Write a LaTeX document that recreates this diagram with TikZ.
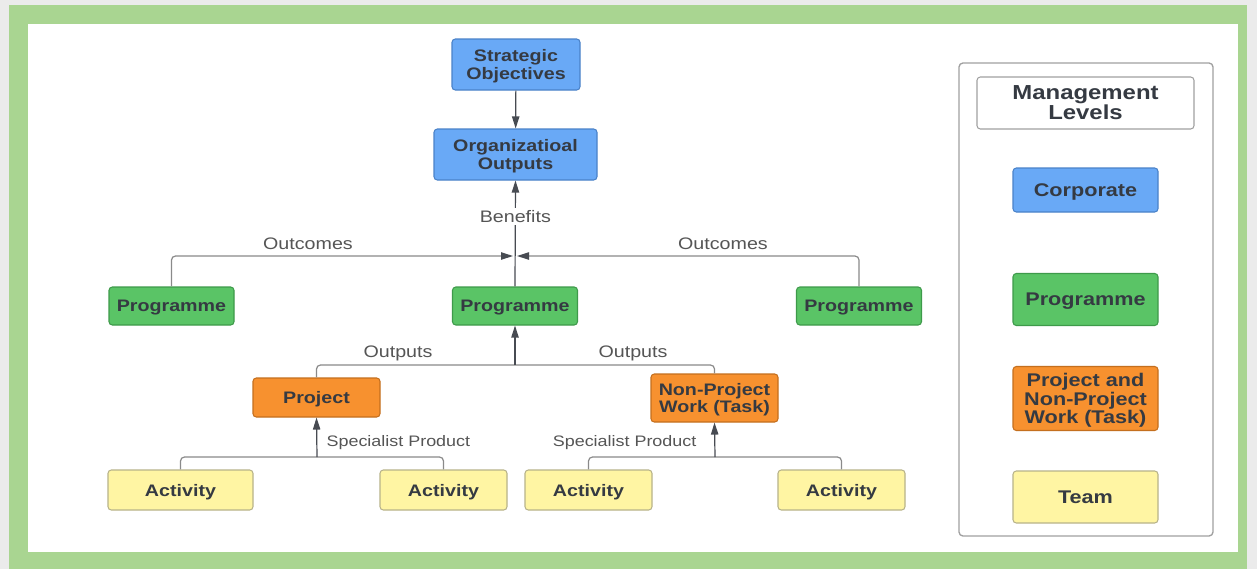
\documentclass[tikz,border=0pt]{standalone}
\usepackage{fontspec}
\setmainfont{Liberation Sans}[FakeStretch=1.18]
\usetikzlibrary{arrows.meta}
\definecolor{bgc}{HTML}{EBEBEB}
\definecolor{framec}{HTML}{A9D591}
\definecolor{bluef}{HTML}{69A9F6}
\definecolor{blued}{HTML}{4A82C8}
\definecolor{greenf}{HTML}{5AC466}
\definecolor{greend}{HTML}{3E9A4A}
\definecolor{orangef}{HTML}{F7912F}
\definecolor{oranged}{HTML}{C46F1E}
\definecolor{yellowf}{HTML}{FFF5A3}
\definecolor{yellowd}{HTML}{B8B38A}
\definecolor{txt}{HTML}{353A42}
\definecolor{lbl}{HTML}{555555}
\definecolor{linec}{HTML}{8A8A8A}
\definecolor{arrc}{HTML}{474B52}
\definecolor{panelc}{HTML}{A0A0A0}
\tikzset{
  box/.style={draw, rounded corners=2.5pt, line width=0.8pt, align=center, inner sep=0pt,
    text depth=0pt, font=\fontsize{12.5}{13}\selectfont\bfseries, text=txt},
  bluebox/.style={box, fill=bluef, draw=blued},
  greenbox/.style={box, fill=greenf, draw=greend},
  orangebox/.style={box, fill=orangef, draw=oranged},
  yellowbox/.style={box, fill=yellowf, draw=yellowd},
  legend/.style={font=\fontsize{13.75}{13.75}\selectfont\bfseries, minimum width=108.75pt},
  lab/.style={font=\fontsize{12.5}{12}\selectfont, text=lbl, inner sep=1pt},
  smalllab/.style={lab, font=\fontsize{11.4}{12}\selectfont},
  branch/.style={draw=linec, line width=0.9pt, rounded corners=3pt},
  tip/.style={-{Triangle[length=9pt,width=5.5pt,color=arrc]}},
  arr/.style={draw=arrc, line width=0.9pt, tip},
}
\begin{document}
\begin{tikzpicture}[x=0.75pt,y=-0.75pt]
\useasboundingbox (0,0) rectangle (1257,569);
\fill[bgc] (0,0) rectangle (1257,569);
\fill[framec] (9,5) rectangle (1247,569);
\fill[white] (28,24) rectangle (1238,552);

% main hierarchy
\node[bluebox, minimum width=96pt, minimum height=38.25pt] (so) at (516,64.5) {Strategic\\Objectives};
\node[bluebox, minimum width=122.25pt, minimum height=38.25pt] (oo) at (515.5,154.5) {Organizatioal\\Outputs};

\node[greenbox, minimum width=93.75pt, minimum height=28.5pt] (pl) at (171.5,306) {Programme};
\node[greenbox, minimum width=93.75pt, minimum height=28.5pt] (pm) at (515,306) {Programme};
\node[greenbox, minimum width=93.75pt, minimum height=28.5pt] (pr) at (859,306) {Programme};

\node[orangebox, minimum width=95.25pt, minimum height=29.25pt] (pj) at (316.5,397.5) {Project};
\node[orangebox, minimum width=95.25pt, minimum height=36pt] (nw) at (714.5,398) {Non-Project\\Work (Task)};

\node[yellowbox, minimum width=108.75pt, minimum height=30pt] (a1) at (180.5,490) {Activity};
\node[yellowbox, minimum width=95.25pt, minimum height=30pt] (a2) at (443.5,490) {Activity};
\node[yellowbox, minimum width=95.25pt, minimum height=30pt] (a3) at (588.5,490) {Activity};
\node[yellowbox, minimum width=95.25pt, minimum height=30pt] (a4) at (841.5,490) {Activity};

% junction coordinates
\coordinate (jl) at (513,256);
\coordinate (jr) at (517,256);
\coordinate (oj) at (515,365);
\coordinate (s1) at (317,457);
\coordinate (s2) at (715,457);

% connectors
\draw[arr] (so) -- (oo);
\draw[arr] (pm.north) -- node[pos=0.66, fill=white, lab, inner sep=2pt] (ben) {Benefits} (oo.south);
\draw[branch, tip] (pl.north) |- (jl);
\draw[branch, tip] (pr.north) |- (jr);
\node[lab] (oc1) at (308,244) {Outcomes};
\node[lab] (oc2) at (723,244) {Outcomes};

\draw[branch] (pj.north) |- (oj) -| (nw.north);
\draw[arr] (oj) -- (pm.south);
\node[lab] (ou1) at (398,353) {Outputs};
\node[lab] (ou2) at (633,353) {Outputs};

\draw[branch] (a1.north) |- (s1) -| (a2.north);
\draw[arr] (s1) -- (pj.south);
\draw[branch] (a3.north) |- (s2) -| (a4.north);
\draw[arr] (s2) -- (nw.south);
\node[smalllab, anchor=west] (sp1) at (325,443) {Specialist Product};
\node[smalllab, anchor=east] (sp2) at (698,443) {Specialist Product};

% legend panel
\draw[draw=panelc, line width=1pt, rounded corners=3pt] (959,63) rectangle (1213,536);
\node[box, draw=panelc, fill=white, minimum width=162.75pt, minimum height=39pt,
  font=\fontsize{15.2}{15}\selectfont\bfseries] (ml) at (1085.5,103) {Management\\Levels};
\node[bluebox, legend, minimum height=33pt] (lc) at (1085.5,190) {Corporate};
\node[greenbox, legend, minimum height=39pt] (lp) at (1085.5,299.5) {Programme};
\node[orangebox, legend, minimum height=48pt] (lo) at (1085.5,398.5) {Project and\\Non-Project\\Work (Task)};
\node[yellowbox, legend, minimum height=39pt] (lt) at (1085.5,497) {Team};
\end{tikzpicture}
\end{document}
